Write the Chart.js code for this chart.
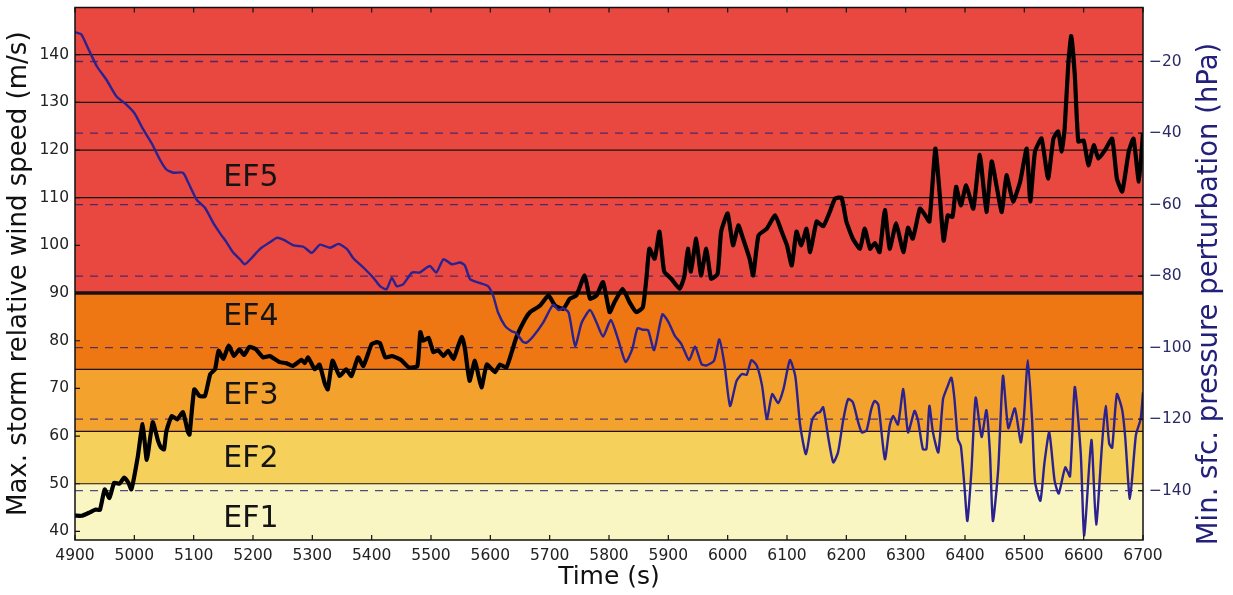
<!DOCTYPE html>
<html>
<head>
<meta charset="utf-8">
<script src="https://cdn.jsdelivr.net/npm/chart.js@4.4.1/dist/chart.umd.min.js"></script>
<style>
  html, body { margin: 0; padding: 0; background: #fff; }
  #wrap { width: 1233px; height: 595px; }
</style>
</head>
<body>
<div id="wrap"><canvas id="chart" width="1233" height="595"></canvas></div>
<script>
// Max. storm relative wind speed (m/s)
const windTimes = [4900, 4912, 4925, 4935, 4942, 4950, 4958, 4966, 4975, 4983, 4990, 4995, 5000, 5006, 5014, 5021, 5031, 5040, 5045, 5050,
  5054, 5063, 5072, 5082, 5090, 5093, 5101, 5110, 5119, 5128, 5136, 5142, 5150, 5159, 5168, 5177, 5185, 5194, 5205, 5217,
  5228, 5245, 5256, 5267, 5282, 5287, 5293, 5304, 5312, 5321, 5326, 5334, 5346, 5357, 5366, 5377, 5386, 5400, 5409, 5414,
  5423, 5434, 5449, 5463, 5477, 5482, 5487, 5496, 5504, 5512, 5521, 5529, 5538, 5546, 5552, 5557, 5565, 5574, 5585, 5594,
  5608, 5616, 5627, 5636, 5644, 5658, 5667, 5684, 5698, 5709, 5723, 5734, 5745, 5759, 5768, 5779, 5790, 5801, 5809, 5823,
  5835, 5846, 5857, 5863, 5868, 5877, 5885, 5893, 5905, 5919, 5927, 5933, 5938, 5947, 5955, 5964, 5972, 5983, 5989, 6000,
  6009, 6018, 6026, 6037, 6043, 6052, 6066, 6080, 6091, 6100, 6108, 6116, 6124, 6133, 6139, 6150, 6161, 6172, 6181, 6192,
  6200, 6211, 6223, 6231, 6240, 6248, 6256, 6265, 6273, 6284, 6296, 6304, 6312, 6324, 6332, 6340, 6350, 6357, 6364, 6371,
  6379, 6385, 6393, 6402, 6414, 6425, 6436, 6445, 6453, 6462, 6470, 6481, 6493, 6504, 6510, 6518, 6529, 6540, 6549, 6557,
  6563, 6568, 6574, 6579, 6585, 6591, 6600, 6608, 6617, 6625, 6636, 6648, 6656, 6665, 6676, 6684, 6693, 6700];
const windSpeed = [43.3, 43.3, 44.0, 44.6, 44.5, 48.8, 47.0, 50.2, 50.0, 51.3, 50.2, 48.8, 51.6, 55.8, 62.5, 55.0, 62.9, 59.0, 57.6, 57.2,
  61.0, 64.2, 63.5, 65.0, 61.0, 60.3, 69.8, 68.4, 68.4, 73.0, 74.0, 77.9, 76.2, 79.0, 76.8, 78.2, 77.0, 78.7, 78.2, 76.5,
  76.8, 75.5, 75.3, 74.7, 76.0, 75.3, 76.5, 74.0, 75.0, 71.0, 69.8, 75.8, 72.6, 74.0, 72.6, 76.5, 74.7, 79.3, 79.7, 79.5,
  76.5, 76.8, 76.0, 74.4, 74.7, 81.8, 80.0, 80.6, 77.6, 78.0, 76.8, 77.9, 76.2, 79.0, 80.8, 78.5, 71.6, 75.8, 70.2, 75.0,
  73.4, 75.0, 74.4, 77.6, 80.8, 84.4, 86.0, 87.4, 89.5, 87.4, 86.7, 88.8, 89.5, 93.7, 88.8, 89.5, 92.3, 86.0, 88.0, 90.9,
  88.0, 86.0, 87.0, 93.0, 99.3, 97.2, 102.9, 94.5, 93.0, 90.9, 93.5, 99.3, 94.5, 101.4, 93.7, 99.3, 93.0, 94.0, 102.9, 106.7,
  100.0, 104.2, 101.4, 97.2, 93.7, 102.1, 103.5, 106.3, 102.9, 100.0, 95.8, 102.9, 100.0, 103.5, 98.6, 105.0, 104.0, 107.0, 109.8, 110.0,
  105.0, 101.4, 99.3, 103.5, 99.3, 100.5, 98.6, 107.4, 99.3, 104.6, 98.6, 103.7, 101.4, 107.7, 106.5, 105.0, 120.3, 111.3, 101.0, 106.3,
  106.0, 112.3, 108.4, 112.6, 107.7, 119.0, 107.0, 117.6, 112.6, 107.0, 114.7, 109.2, 113.4, 120.3, 109.2, 119.7, 122.4, 114.0, 122.4, 123.9,
  119.7, 124.6, 137.9, 143.9, 135.8, 121.8, 122.0, 116.8, 121.0, 118.2, 120.0, 122.4, 114.0, 111.3, 119.7, 122.4, 113.4, 123.5];

// Min. sfc. pressure perturbation (hPa)
const presTimes = [4900, 4911, 4922, 4937, 4953, 4970, 4987, 5000, 5015, 5029, 5043, 5054, 5066, 5082, 5091, 5105, 5119, 5133, 5144, 5156,
  5167, 5178, 5186, 5198, 5212, 5229, 5240, 5251, 5268, 5285, 5299, 5313, 5330, 5344, 5358, 5369, 5386, 5403, 5414, 5425,
  5434, 5442, 5453, 5468, 5481, 5498, 5509, 5521, 5535, 5549, 5557, 5566, 5580, 5596, 5605, 5613, 5625, 5636, 5644, 5655,
  5661, 5672, 5689, 5706, 5715, 5723, 5732, 5743, 5754, 5768, 5779, 5790, 5803, 5815, 5828, 5839, 5848, 5857, 5866, 5876,
  5890, 5900, 5911, 5922, 5935, 5945, 5956, 5964, 5977, 5986, 5995, 6004, 6015, 6024, 6032, 6040, 6049, 6058, 6066, 6075,
  6085, 6094, 6105, 6114, 6122, 6132, 6142, 6150, 6155, 6161, 6170, 6178, 6186, 6195, 6203, 6211, 6220, 6226, 6234, 6242,
  6248, 6254, 6265, 6273, 6279, 6287, 6296, 6304, 6315, 6321, 6329, 6335, 6340, 6346, 6355, 6363, 6371, 6377, 6382, 6388,
  6393, 6399, 6404, 6411, 6418, 6428, 6436, 6442, 6447, 6456, 6464, 6473, 6484, 6494, 6499, 6506, 6513, 6518, 6527, 6534,
  6542, 6551, 6558, 6569, 6577, 6585, 6595, 6601, 6613, 6621, 6631, 6637, 6643, 6648, 6656, 6665, 6670, 6678, 6688, 6696, 6700];
const presPert = [-11.8, -12.5, -16.3, -21.4, -25.1, -29.8, -32.1, -34.4, -39.0, -42.8, -47.4, -50.2, -51.1, -51.1, -53.9, -58.6, -60.9, -65.1, -67.9, -70.7,
  -73.5, -75.3, -76.7, -74.9, -72.4, -70.5, -69.3, -69.8, -71.4, -71.8, -73.5, -71.2, -72.1, -71.0, -72.4, -75.0, -77.6, -80.5, -82.8, -83.7,
  -80.5, -82.8, -82.3, -79.0, -79.0, -77.2, -79.0, -75.3, -76.7, -76.2, -77.0, -80.9, -81.8, -82.8, -85.6, -90.2, -94.0, -95.4, -96.0, -98.4,
  -98.6, -96.9, -93.0, -88.0, -89.5, -89.0, -90.2, -99.5, -93.0, -89.5, -93.0, -96.9, -92.3, -97.5, -104.0, -100.5, -94.6, -95.0, -95.2, -100.7,
  -90.7, -92.8, -96.7, -99.0, -103.5, -99.7, -104.6, -105.0, -103.7, -97.7, -105.1, -116.3, -109.3, -107.4, -107.6, -103.5, -105.0, -110.7, -120.0, -113.0,
  -115.5, -111.6, -103.5, -108.0, -121.5, -129.8, -120.5, -118.3, -118.1, -116.7, -125.6, -132.1, -129.3, -120.0, -114.4, -115.3, -120.9, -123.7, -123.2, -117.2,
  -114.9, -116.0, -131.2, -121.9, -119.1, -121.5, -111.6, -123.7, -117.7, -120.5, -128.4, -128.4, -116.3, -123.7, -129.3, -114.4, -110.7, -108.4, -114.0, -125.6,
  -127.5, -138.6, -148.5, -134.0, -114.0, -125.0, -117.5, -129.3, -148.5, -134.0, -107.9, -122.5, -117.0, -126.5, -120.0, -103.5, -120.0, -137.5, -142.8, -132.1,
  -123.7, -137.2, -140.8, -133.5, -136.0, -111.0, -129.3, -152.5, -125.8, -149.5, -127.0, -116.3, -126.8, -128.0, -113.0, -117.5, -125.0, -142.3, -124.5, -120.0, -112.5];

// Enhanced Fujita scale classes and their lower bounds (m/s)
const efClasses = ['EF1', 'EF2', 'EF3', 'EF4', 'EF5'];
const efThresholds = [50, 61, 74, 90];
const efLabelSpeed = [42.5, 55.1, 68.4, 85, 114];
const extraLines = [110, 120, 130, 140];

const bandColors = ['#f9f6c4', '#f5d15c', '#f4a22e', '#ee7613', '#e8483f'];
const FONT = '"DejaVu Sans", sans-serif';
const rightTitle = 'Min. sfc. pressure perturbation (hPa)';

const backdrop = {
  id: 'backdrop',
  beforeDatasetsDraw(chart) {
    const { ctx, chartArea: a, scales: { x, y, y2 } } = chart;
    ctx.save();
    const edges = [y.min].concat(efThresholds, [y.max]);
    for (let i = 0; i < bandColors.length; i++) {
      const top = y.getPixelForValue(edges[i + 1]);
      const bot = y.getPixelForValue(edges[i]);
      ctx.fillStyle = bandColors[i];
      ctx.fillRect(a.left, top, a.right - a.left, bot - top);
    }
    // solid lines
    ctx.strokeStyle = '#1c1010';
    efThresholds.concat(extraLines).forEach(v => {
      const py = y.getPixelForValue(v);
      ctx.lineWidth = v === 90 ? 3.5 : 1.2;
      ctx.beginPath();
      ctx.moveTo(a.left, py);
      ctx.lineTo(a.right, py);
      ctx.stroke();
    });
    // dashed pressure gridlines
    ctx.strokeStyle = 'rgba(45,30,115,0.8)';
    ctx.lineWidth = 1.3;
    ctx.setLineDash([8, 7]);
    y2.ticks.forEach(t => {
      const py = y2.getPixelForValue(t.value);
      ctx.beginPath();
      ctx.moveTo(a.left, py);
      ctx.lineTo(a.right, py);
      ctx.stroke();
    });
    ctx.setLineDash([]);
    // class labels
    ctx.fillStyle = '#141414';
    ctx.font = '30px ' + FONT;
    ctx.textAlign = 'left';
    ctx.textBaseline = 'middle';
    efClasses.forEach((c, i) => {
      ctx.fillText(c, x.getPixelForValue(5150), y.getPixelForValue(efLabelSpeed[i]));
    });
    ctx.restore();
  },
  afterDraw(chart) {
    const { ctx, chartArea: a, scales: { x, y, y2 } } = chart;
    ctx.save();
    ctx.strokeStyle = '#111';
    ctx.lineWidth = 1.2;
    // inward ticks
    ctx.beginPath();
    x.ticks.forEach(t => {
      const px = x.getPixelForValue(t.value);
      ctx.moveTo(px, a.bottom); ctx.lineTo(px, a.bottom - 5);
      ctx.moveTo(px, a.top); ctx.lineTo(px, a.top + 5);
    });
    y.ticks.forEach(t => {
      const py = y.getPixelForValue(t.value);
      ctx.moveTo(a.left, py); ctx.lineTo(a.left + 5, py);
    });
    y2.ticks.forEach(t => {
      const py = y2.getPixelForValue(t.value);
      ctx.moveTo(a.right, py); ctx.lineTo(a.right - 5, py);
    });
    ctx.stroke();
    ctx.lineWidth = 1.5;
    ctx.strokeRect(a.left, a.top, a.right - a.left, a.bottom - a.top);
    // right axis title, reads bottom to top, a little below centre
    ctx.translate(1210, y2.getPixelForValue(-85));
    ctx.rotate(-Math.PI / 2);
    ctx.fillStyle = '#22207a';
    ctx.font = '27.5px ' + FONT;
    ctx.textAlign = 'center';
    ctx.textBaseline = 'middle';
    ctx.fillText(rightTitle, 0, 0);
    ctx.restore();
  }
};

new Chart(document.getElementById('chart'), {
  type: 'line',
  data: {
    datasets: [{
      label: 'Min. sfc. pressure perturbation',
      data: presTimes.map((t, i) => ({ x: t, y: presPert[i] })),
      yAxisID: 'y2',
      borderColor: '#2b2290',
      borderWidth: 2.4,
      pointRadius: 0,
      tension: 0.2
    }, {
      label: 'Max. storm relative wind speed',
      data: windTimes.map((t, i) => ({ x: t, y: windSpeed[i] })),
      yAxisID: 'y',
      borderColor: '#000',
      borderWidth: 4.2,
      pointRadius: 0,
      tension: 0.15
    }]
  },
  options: {
    responsive: false,
    animation: false,
    devicePixelRatio: 1,
    layout: { padding: { top: 7.5, left: 0, right: 0, bottom: 0 } },
    plugins: { legend: { display: false }, tooltip: { enabled: false } },
    scales: {
      x: {
        type: 'linear',
        min: 4900,
        max: 6700,
        afterFit: s => { s.height = 55; s.paddingLeft = 0; s.paddingRight = 0; },
        grid: { display: false, drawTicks: false },
        border: { display: false },
        ticks: { stepSize: 100, padding: 7, color: '#222', font: { family: FONT, size: 15.5 }, callback: v => String(v) },
        title: { display: true, text: 'Time (s)', color: '#111', font: { family: FONT, size: 25 }, padding: { top: 0, bottom: 3 } }
      },
      y: {
        position: 'left',
        min: 38.2,
        max: 149.9,
        afterFit: s => { s.width = 75; s.paddingTop = 0; s.paddingBottom = 0; },
        grid: { display: false, drawTicks: false },
        border: { display: false },
        ticks: { stepSize: 10, includeBounds: false, padding: 6, color: '#222', font: { family: FONT, size: 15.5 } },
        title: { display: true, text: 'Max. storm relative wind speed (m/s)', color: '#111', font: { family: FONT, size: 26 }, padding: { top: 4, bottom: 0 } }
      },
      y2: {
        position: 'right',
        min: -153.8,
        max: -4.9,
        afterFit: s => { s.width = 90; s.paddingTop = 0; s.paddingBottom = 0; },
        grid: { display: false, drawTicks: false },
        border: { display: false },
        ticks: { stepSize: 20, includeBounds: false, padding: 6, color: '#2a2a66', font: { family: FONT, size: 15.5 },
          callback: v => String(v).replace('-', '\u2212') },
        title: { display: false }
      }
    }
  },
  plugins: [backdrop]
});
</script>
</body>
</html>
